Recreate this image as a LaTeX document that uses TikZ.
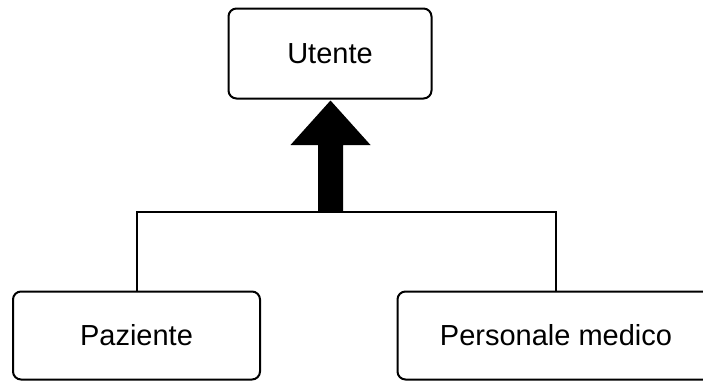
\documentclass[tikz,border=0pt]{standalone}
\usepackage{fontspec}
\setmainfont{Liberation Sans}
\usetikzlibrary{calc}
\begin{document}
\begin{tikzpicture}[x=1pt,y=-1pt,
  box/.style={draw, line width=2pt, rounded corners=8pt, align=center,
    inner sep=0pt, font=\fontsize{29}{35}\selectfont},
  link/.style={draw, line width=2pt}]
\useasboundingbox (0,0) rectangle (703,381);
\clip (0,0) rectangle (703,381);
% classes
\node[box, minimum width=203pt, minimum height=90pt] (u) at (330,53.5) {Utente};
\node[box, minimum width=247pt, minimum height=88pt] (p) at (136.5,335.5) {Paziente};
\node[box, minimum width=317pt, minimum height=88pt] (m) at (556,335.5) {Personale medico};
% junction of the generalisation lines
\coordinate (hub) at (330.5,212);
\draw[link] (p.north) |- (hub) -| (m.north);
% block arrow from the junction up to the parent class
\fill ($(hub)+(-12.5,0)$) -- ($(u.south)+(-12,45.5)$) -- ($(u.south)+(-39.5,45.5)$)
  -- ($(u.south)+(0.5,1)$) -- ($(u.south)+(40.5,45.5)$) -- ($(u.south)+(13,45.5)$)
  -- ($(hub)+(12.5,0)$) -- cycle;
\end{tikzpicture}
\end{document}
